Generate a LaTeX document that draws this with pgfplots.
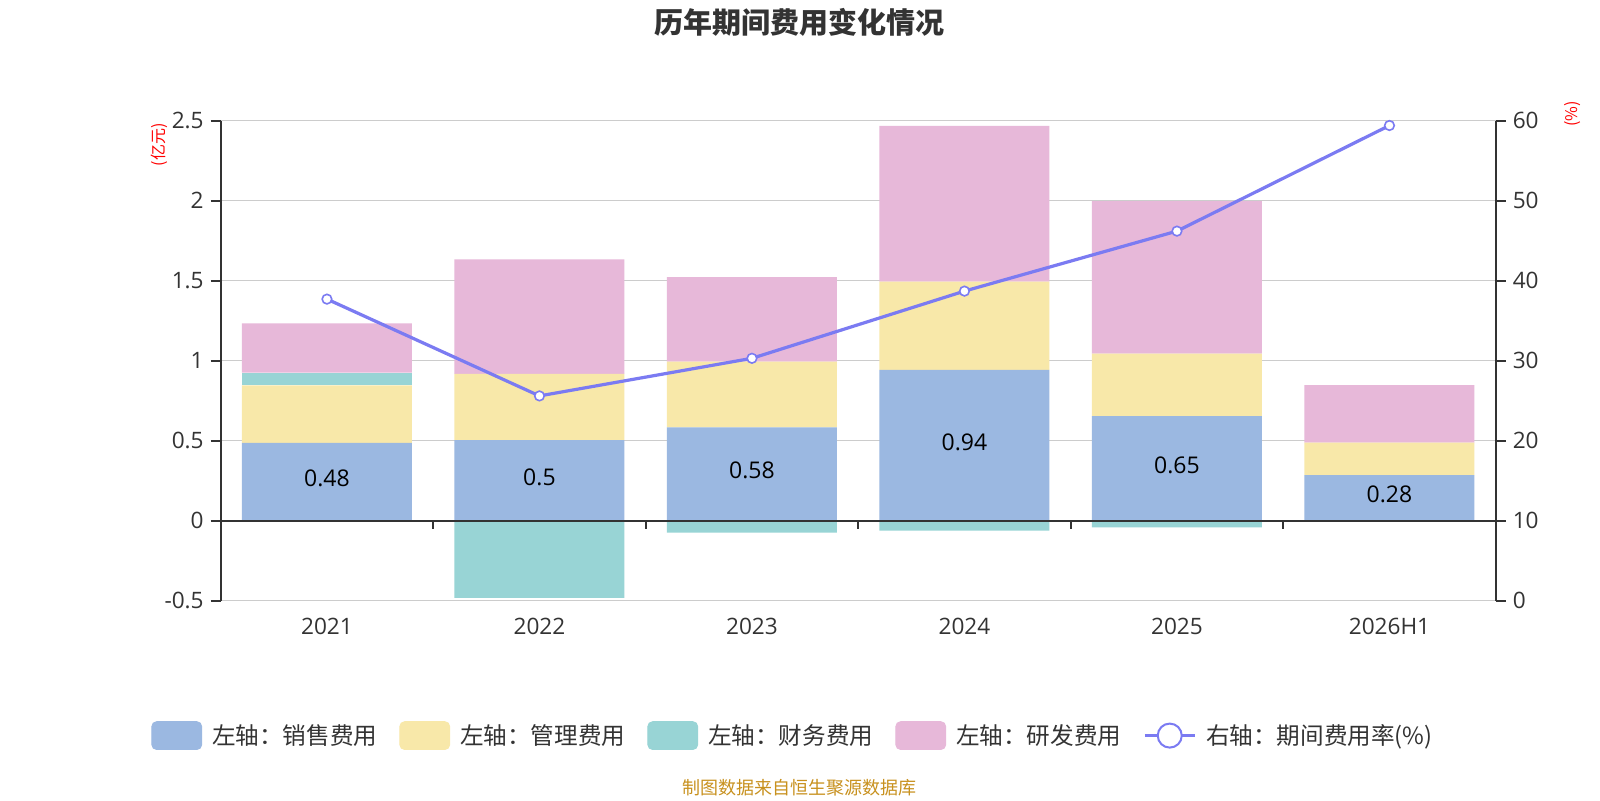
\documentclass[border=0pt]{standalone}
\usepackage{pgfplots}
\pgfplotsset{compat=1.18}
\usepackage{pgfplotstable}
\usepackage{fontspec}
\setmainfont{Open Sans}
\newfontfamily\cjk{Noto Sans CJK SC}
\definecolor{cSales}{HTML}{9BB8E1}
\definecolor{cMgmt}{HTML}{F8E8A9}
\definecolor{cFin}{HTML}{98D4D5}
\definecolor{cRD}{HTML}{E7B8D9}
\definecolor{cLine}{HTML}{7B7BF2}
\definecolor{cGrid}{HTML}{CCCCCC}
\definecolor{cAxis}{HTML}{333333}
\definecolor{cSrc}{HTML}{C8911E}

\pgfplotstableread{
x sales mgmt finpos rd finneg rate lab
0 0.486 0.360 0.079 0.309 0 37.7 0.48
1 0.504 0.413 0 0.717 -0.483 25.6 0.5
2 0.584 0.410 0 0.529 -0.075 30.3 0.58
3 0.942 0.552 0 0.973 -0.0625 38.7 0.94
4 0.654 0.390 0 0.954 -0.042 46.2 0.65
5 0.285 0.203 0 0.359 -0.004 59.4 0.28
}\datatable

\pgfplotsset{
  base/.style={scale only axis, width=637.5pt, height=240pt,
    at={(110.35pt,99.65pt)}, anchor=south west,
    xmin=-0.5, xmax=5.5, ymin=-0.5, ymax=2.5,
    /pgf/number format/assume math mode=true,
    ticklabel style={font=\fontsize{11.3}{13}\selectfont, text=cAxis}},
}

\begin{document}
\begin{tikzpicture}
\fill[white] (0,0) rectangle (800pt,400pt);
\path[use as bounding box] (0,0) rectangle (800pt,400pt);

% axis 1: positive stacks, left axis, grid
\begin{axis}[base, ybar stacked, bar width=0.8,
  axis x line*=bottom, axis y line*=left,
  x axis line style={draw=cGrid, line width=0.6pt, -},
  y axis line style={draw=cAxis, line width=0.8pt, -},
  xtick={0,1,2,3,4,5},
  xticklabels={2021,2022,2023,2024,2025,2026H1},
  x tick style={draw=none},
  ytick={-0.5,0,0.5,1,1.5,2,2.5},
  yticklabels={-0.5,0,0.5,1,1.5,2,2.5},
  y tick style={draw=cAxis, line width=0.8pt},
  tick align=outside, major tick length=5pt,
  ymajorgrids, grid style={draw=cGrid, line width=0.6pt},
]
\addplot[fill=cSales, draw=none] table[x=x,y=sales]{\datatable};
\addplot[fill=cMgmt, draw=none] table[x=x,y=mgmt]{\datatable};
\addplot[fill=cFin, draw=none] table[x=x,y=finpos]{\datatable};
\addplot[fill=cRD, draw=none] table[x=x,y=rd]{\datatable};
\end{axis}

% axis 2: negative finance bars, labels, zero line
\begin{axis}[base, axis lines=none, ticks=none]
\addplot[ybar, bar width=0.8, fill=cFin, draw=none] table[x=x,y=finneg]{\datatable};
\addplot[draw=none, mark=none, nodes near coords, point meta=explicit symbolic,
  nodes near coords style={anchor=center, font=\fontsize{11.5}{13}\selectfont, text=black}]
  table[x=x, y expr=\thisrow{sales}/2+0.02, meta=lab]{\datatable};
\draw[cAxis, line width=0.8pt] (axis cs:-0.5,0) -- (axis cs:5.5,0);
\pgfplotsinvokeforeach{0.5,1.5,2.5,3.5,4.5}{
  \draw[cAxis, line width=0.8pt] (axis cs:#1,0) -- ++(0pt,-4.3pt);
}
\end{axis}

% axis 3: right axis, line, legend
\begin{axis}[base, ymin=0, ymax=60,
  axis x line=none, axis y line*=right,
  y axis line style={draw=cAxis, line width=0.8pt, -},
  ytick={0,10,20,30,40,50,60},
  y tick style={draw=cAxis, line width=0.8pt},
  tick align=outside, major tick length=5pt,
  legend columns=5,
  legend style={at={(-0.0547,-0.281)}, anchor=west, draw=none, fill=none,
    inner sep=0pt, font=\cjk\fontsize{11.8}{14}\selectfont, text=cAxis,
    nodes={inner sep=0pt},
    /tikz/every odd column/.append style={column sep=5pt},
    /tikz/every even column/.append style={column sep=11pt}},
  legend cell align=left,
]
\addlegendimage{legend image code/.code={\fill[cSales, rounded corners=2.5pt] (0pt,-7pt) rectangle (25pt,7pt);}}
\addlegendimage{legend image code/.code={\fill[cMgmt, rounded corners=2.5pt] (0pt,-7pt) rectangle (25pt,7pt);}}
\addlegendimage{legend image code/.code={\fill[cFin, rounded corners=2.5pt] (0pt,-7pt) rectangle (25pt,7pt);}}
\addlegendimage{legend image code/.code={\fill[cRD, rounded corners=2.5pt] (0pt,-7pt) rectangle (25pt,7pt);}}
\addplot[cLine, line width=1.6pt, mark=*, mark size=2.4pt,
  mark options={fill=white, draw=cLine, line width=0.8pt},
  legend image code/.code={\draw[cLine, line width=1.4pt] (0pt,0pt) -- (25pt,0pt);
    \draw[cLine, fill=white, line width=1pt] (12.5pt,0pt) circle (6pt);}]
  table[x=x,y=rate]{\datatable};
\legend{左轴：销售费用, 左轴：管理费用, 左轴：财务费用, 左轴：研发费用, 右轴：期间费用率(\%)}
\end{axis}

\node[font=\cjk\bfseries\fontsize{14.5}{16}\selectfont, text=cAxis] at (399.5pt,388.75pt) {历年期间费用变化情况};
\node[rotate=90, text=red, font=\cjk\fontsize{8}{9}\selectfont] at (79.75pt,327.5pt) {(亿元)};
\node[rotate=90, text=red, font=\cjk\fontsize{8}{9}\selectfont] at (786.5pt,343pt) {(\%)};
\node[text=cSrc, font=\cjk\fontsize{9}{10}\selectfont] at (399.5pt,6pt) {制图数据来自恒生聚源数据库};
\end{tikzpicture}
\end{document}
